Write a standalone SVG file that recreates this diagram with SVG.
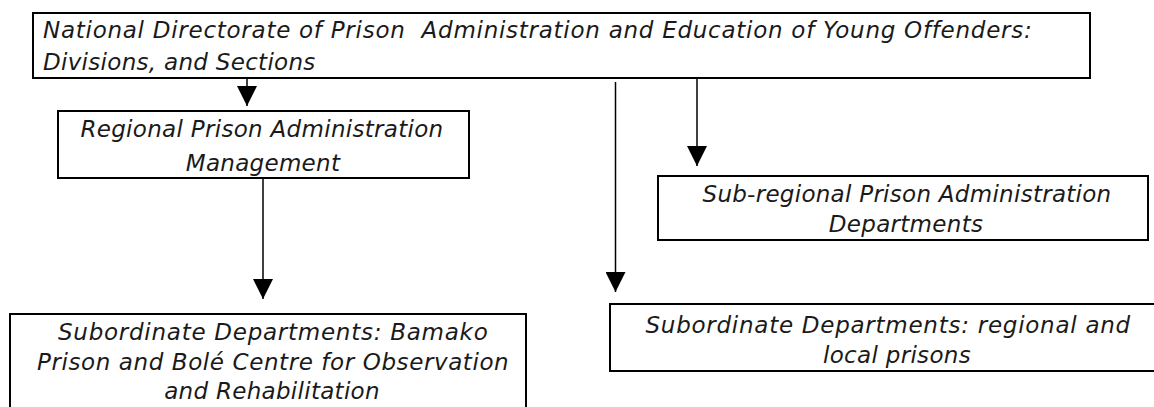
<svg xmlns="http://www.w3.org/2000/svg" width="1154" height="407" viewBox="0 0 1154 407">
  <style>
    .box { fill: #ffffff; stroke: #000000; stroke-width: 2; }
    .lbl { font-family: "DejaVu Sans", "Liberation Sans", sans-serif; font-style: italic; font-size: 23px; letter-spacing: 0.3px; fill: #1a1a1a; white-space: pre; }
    .mid { text-anchor: middle; }
    .conn { stroke: #000000; stroke-width: 1.5; fill: none; marker-end: url(#arrow); }
  </style>
  <defs>
    <marker id="arrow" markerUnits="userSpaceOnUse" markerWidth="20" markerHeight="20" viewBox="0 0 20 20" refX="20" refY="10" orient="auto">
      <path d="M0,0 L20,10 L0,20 Z" fill="#000000"/>
    </marker>
  </defs>
  <rect width="1154" height="407" fill="#ffffff"/>

  <g id="connectors">
    <line class="conn" x1="247" y1="78" x2="247" y2="106"/>
    <line class="conn" x1="263" y1="178" x2="263" y2="299"/>
    <line class="conn" x1="697" y1="78" x2="697" y2="166"/>
    <line class="conn" x1="615.5" y1="82" x2="615.5" y2="292"/>
  </g>

  <g id="national">
    <rect class="box" x="33" y="13" width="1057" height="65"/>
    <text class="lbl" x="43" y="38" xml:space="preserve" textLength="989" lengthAdjust="spacing">National Directorate of Prison  Administration and Education of Young Offenders:</text>
    <text class="lbl" x="43" y="70">Divisions, and Sections</text>
  </g>

  <g id="regional">
    <rect class="box" x="58" y="111" width="411" height="67"/>
    <text class="lbl mid" x="262" y="137" textLength="363" lengthAdjust="spacing">Regional Prison Administration</text>
    <text class="lbl mid" x="263" y="171">Management</text>
  </g>

  <g id="subregional">
    <rect class="box" x="658" y="176" width="490" height="64"/>
    <text class="lbl mid" x="907" y="202" textLength="409" lengthAdjust="spacing">Sub-regional Prison Administration</text>
    <text class="lbl mid" x="906" y="232">Departments</text>
  </g>

  <g id="bamako">
    <rect class="box" x="10" y="314" width="516" height="110"/>
    <text class="lbl mid" x="273" y="340" textLength="430" lengthAdjust="spacing">Subordinate Departments: Bamako</text>
    <text class="lbl mid" x="273" y="370" textLength="472" lengthAdjust="spacing">Prison and Bolé Centre for Observation</text>
    <text class="lbl mid" x="272" y="399">and Rehabilitation</text>
  </g>

  <g id="regional-local">
    <rect class="box" x="610" y="304" width="560" height="67"/>
    <text class="lbl mid" x="888" y="333" textLength="485" lengthAdjust="spacing">Subordinate Departments: regional and</text>
    <text class="lbl mid" x="897" y="363">local prisons</text>
  </g>
</svg>
